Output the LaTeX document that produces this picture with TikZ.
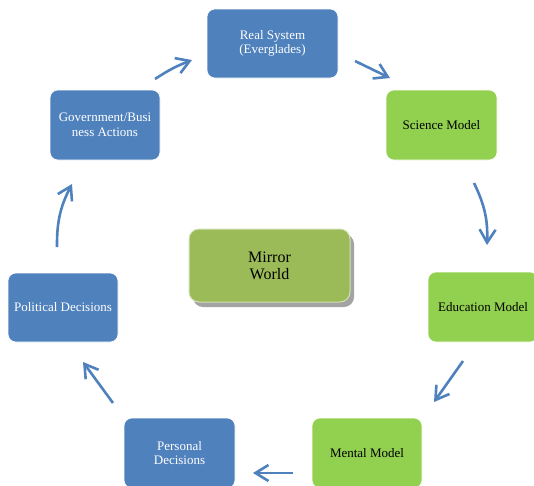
\documentclass[tikz,border=0pt]{standalone}
\usepackage{fontspec}
\setmainfont{Liberation Serif}
\usetikzlibrary{arrows.meta, shadows}
\definecolor{boxblue}{RGB}{79, 129, 189}
\definecolor{boxgreen}{RGB}{146, 208, 80}
\definecolor{mirrorgreen}{RGB}{155, 187, 89}

\begin{document}
\begin{tikzpicture}[x=1pt, y=1pt,
    bluebox/.style={draw=white, line width=0.6pt, rounded corners=8pt, fill=boxblue, text=white, align=center, minimum width=110pt, minimum height=70pt, font=\fontsize{13}{14.5}\selectfont},
    greenbox/.style={bluebox, fill=boxgreen, text=black},
    flow/.style={-{Straight Barb[length=13pt, width=16pt]}, boxblue, line width=2.6pt}]
    \useasboundingbox (0,0) rectangle (534,-485);

    % Nodes
    \node (real) [bluebox, minimum width=131pt, minimum height=69pt] at (272.5,-43.5) {Real System\\(Everglades)};
    \node (sci) [greenbox, minimum width=111pt] at (441.5,-125) {Science Model};
    \node (edu) [greenbox] at (483,-307) {Education Model};
    \node (mental) [greenbox] at (367,-453) {Mental Model};
    \node (personal) [bluebox, minimum width=111pt] at (179.5,-453) {Personal\\Decisions};
    \node (political) [bluebox, minimum height=69pt] at (63,-307.5) {Political Decisions};
    \node (gov) [bluebox] at (105,-125) {Government/Busi\\ness Actions};
    \node (mirror) [draw=white!55!mirrorgreen, line width=1pt, rounded corners=10pt, fill=mirrorgreen, minimum width=161pt, minimum height=73pt, align=center, font=\fontsize{16}{17}\selectfont, drop shadow={shadow xshift=4pt, shadow yshift=-5pt, fill=gray!80, opacity=0.9}] at (269.5,-265.5) {Mirror\\World};

    % Arrow ends
    \coordinate (s1) at (155,-79);  \coordinate (t1) at (192,-60);
    \coordinate (s2) at (355,-61);  \coordinate (t2) at (390,-78);
    \coordinate (s3) at (474,-183); \coordinate (t3) at (487,-245);
    \coordinate (s4) at (463,-361); \coordinate (t4) at (434,-402);
    \coordinate (s5) at (293,-473); \coordinate (t5) at (253,-473);
    \coordinate (s6) at (113,-403); \coordinate (t6) at (83,-362);
    \coordinate (s7) at (57,-247);  \coordinate (t7) at (72,-184);

    % Arrows
    \draw[flow] (s1) to[bend left=6] (t1);
    \draw[flow] (s2) -- (t2);
    \draw[flow] (s3) to[bend left=14] (t3);
    \draw[flow] (s4) -- (t4);
    \draw[flow] (s5) -- (t5);
    \draw[flow] (s6) -- (t6);
    \draw[flow] (s7) to[bend left=14] (t7);
\end{tikzpicture}
\end{document}
